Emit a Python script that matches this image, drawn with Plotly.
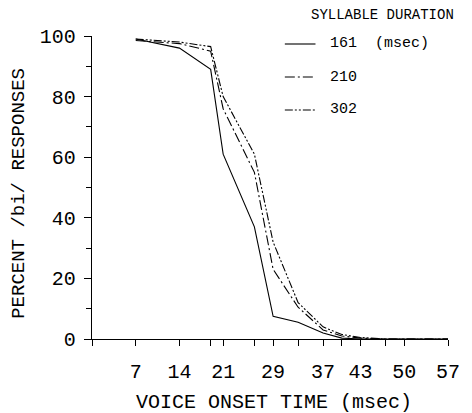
import plotly.graph_objects as go

# Data
vot = [7, 14, 19, 21, 26, 29, 33, 37, 40, 43, 47, 50, 57]
dur_161 = [99, 96, 89, 61, 37, 7.5, 5.5, 2, 0.3, 0, 0, 0, 0]
dur_210 = [98.5, 97.5, 95, 76, 55, 23, 10.5, 3, 1, 0.3, 0, 0, 0]
dur_302 = [99, 98, 96.5, 80, 61, 32, 12, 4, 1.5, 0.5, 0, 0, 0]

x_major = [7, 14, 21, 29, 37, 43, 50, 57]
x_minor = [0, 19, 26, 33, 40, 47]
y_major = [0, 20, 40, 60, 80, 100]
y_minor = [10, 30, 50, 70, 90]

series = [
    ("161  (msec)", dur_161, "solid"),
    ("210", dur_210, "10px,3px,2px,3px"),
    ("302", dur_302, "8px,2px,2px,2px,2px,2px"),
]

FONT = "Liberation Mono"

fig = go.Figure()
for name, vals, dash in series:
    fig.add_trace(go.Scatter(x=vot, y=vals, mode="lines", name=name,
                             line=dict(color="black", width=1.1, dash=dash),
                             showlegend=False))

# manual legend
L = 92; W = 360; B = 339; H = 303
def px(x):
    return (x - L) / W
def py(y):
    return (B - y) / H

fig.add_annotation(x=px(386), y=py(15), xref="paper", yref="paper",
                   text="SYLLABLE DURATION", showarrow=False,
                   font=dict(family=FONT, size=14, color="black"),
                   xanchor="center", yanchor="middle")
leg_y = [44, 77, 110]
for (name, vals, dash), yy in zip(series, leg_y):
    fig.add_shape(type="line", xref="paper", yref="paper",
                  x0=px(287), x1=px(318), y0=py(yy), y1=py(yy),
                  line=dict(color="black", width=1.1, dash=dash))
    fig.add_annotation(x=px(331), y=py(yy), xref="paper", yref="paper",
                       text=name, showarrow=False,
                       font=dict(family=FONT, size=15, color="black"),
                       xanchor="left", yanchor="middle")

fig.add_annotation(x=px(276), y=py(403), xref="paper", yref="paper",
                   text="VOICE ONSET TIME (msec)", showarrow=False,
                   font=dict(family=FONT, size=20, color="black"),
                   xanchor="center", yanchor="middle")
fig.add_annotation(x=px(18), y=py(193), xref="paper", yref="paper",
                   text="PERCENT /bi/ RESPONSES", showarrow=False, textangle=-90,
                   font=dict(family=FONT, size=19, color="black"),
                   xanchor="center", yanchor="middle")

fig.update_layout(
    width=472, height=413,
    margin=dict(l=92, r=20, t=36, b=74),
    paper_bgcolor="white", plot_bgcolor="white",
    showlegend=False,
    font=dict(family=FONT, color="black"),
)
fig.update_xaxes(range=[0, 57], tickvals=x_major, ticktext=[str(v) for v in x_major],
                 showgrid=False, zeroline=False, showline=True, linecolor="black",
                 linewidth=1.3, ticks="outside", ticklen=6, tickwidth=1.3,
                 tickcolor="black", ticklabelstandoff=8,
                 tickfont=dict(family=FONT, size=20, color="black"),
                 minor=dict(tickvals=x_minor, ticks="outside", ticklen=6,
                            tickwidth=1.3, tickcolor="black", showgrid=False))
fig.update_yaxes(range=[0, 100], tickvals=y_major,
                 showgrid=False, zeroline=False, showline=True, linecolor="black",
                 linewidth=1.3, ticks="outside", ticklen=7, tickwidth=1.3,
                 tickcolor="black", ticklabelstandoff=4,
                 tickfont=dict(family=FONT, size=20, color="black"),
                 minor=dict(tickvals=y_minor, ticks="outside", ticklen=5,
                            tickwidth=1.3, tickcolor="black", showgrid=False))

fig.write_html("out.html")
